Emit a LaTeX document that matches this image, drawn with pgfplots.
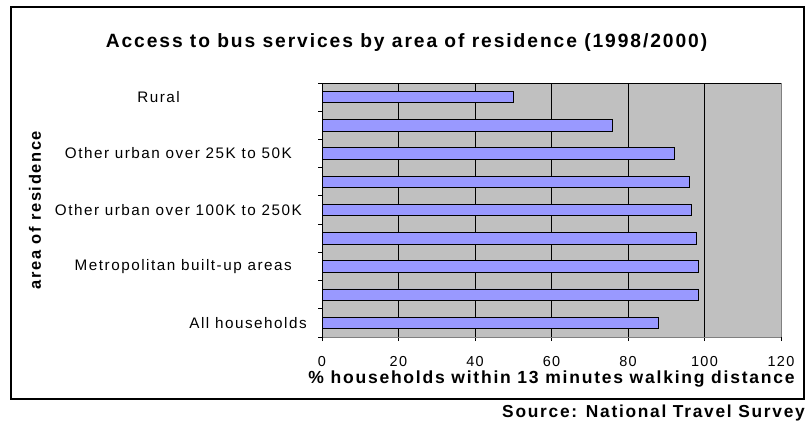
\documentclass[border=0pt]{standalone}
\usepackage{fontspec}
\setmainfont{Liberation Sans}
\usepackage{pgfplots}
\pgfplotsset{compat=1.18}
\definecolor{plotgray}{HTML}{C0C0C0}
\definecolor{barblue}{HTML}{9999FF}
\definecolor{bordergray}{HTML}{808080}
\begin{document}
\begin{tikzpicture}[x=1bp,y=1bp]
\path[use as bounding box] (0,0) rectangle (809,424);
\draw[line width=2.2bp] (11,25) rectangle (804,417);
\node[inner sep=0pt, font=\fontsize{19.3}{22}\selectfont\bfseries\addfontfeature{LetterSpace=10}] at (406.5,381) {Access to bus services by area of residence (1998/2000)};
\node[anchor=base east, inner sep=0pt, font=\fontsize{17.4}{20}\selectfont\bfseries\addfontfeature{LetterSpace=10}] at (805,7) {Source: National Travel Survey};
\begin{axis}[
  at={(322bp,87bp)}, anchor=south west,
  scale only axis, width=459bp, height=254bp,
  xbar, bar width=11.5bp,
  xmin=0, xmax=120,
  xtick={20,40,...,100},
  extra x ticks={0,120},
  extra x tick style={grid=none},
  xmajorgrids,
  major grid style={black, line width=0.8bp},
  ymin=-0.5, ymax=8.5, y dir=reverse,
  ytick={-0.5,0.5,...,8.5},
  yticklabels={Rural\hspace*{127bp},{},Other urban over 25K to 50K\hspace*{15bp},{},Other urban over 100K to 250K\hspace*{5bp},{},Metropolitan built-up areas\hspace*{15bp},{},All households,{}},
  yticklabel style={yshift=-14.1bp, anchor=east, inner sep=0pt, xshift=-11bp, font=\fontsize{15.3}{17}\selectfont\addfontfeature{LetterSpace=10}},
  xticklabel style={anchor=north, inner sep=0pt, yshift=-15bp, font=\fontsize{14.5}{17}\selectfont\addfontfeature{LetterSpace=10}},
  /pgf/number format/assume math mode=true,
  tick align=outside, xtick pos=bottom, ytick pos=left,
  major tick length=4bp,
  tick style={black, line width=0.8bp},
  axis background/.style={fill=plotgray},
  axis line style={draw=bordergray, line width=0.8bp},
  xlabel={\% households within 13 minutes walking distance},
  ylabel={area of residence},
  every axis x label/.style={at={(rel axis cs:0.5,0)}, anchor=base, yshift=-46bp, inner sep=0pt, font=\fontsize{17.6}{20}\selectfont\bfseries\addfontfeature{LetterSpace=10}},
  every axis y label/.style={at={(rel axis cs:0,0.5)}, xshift=-287bp, rotate=90, anchor=center, inner sep=0pt, font=\fontsize{16.5}{19}\selectfont\bfseries\addfontfeature{LetterSpace=10}},
]
\addplot[fill=barblue, draw=black, line width=0.8bp] coordinates {
  (50,0) (76,1) (92,2) (96,3) (96.5,4) (98,5) (98.5,6) (98.5,7) (88,8)
};
\draw[black, line width=0.8bp] (rel axis cs:0,0) -- (rel axis cs:0,1);
\draw[black, line width=0.8bp] (rel axis cs:0,1) -- (rel axis cs:1,1);
\end{axis}
\end{tikzpicture}
\end{document}
